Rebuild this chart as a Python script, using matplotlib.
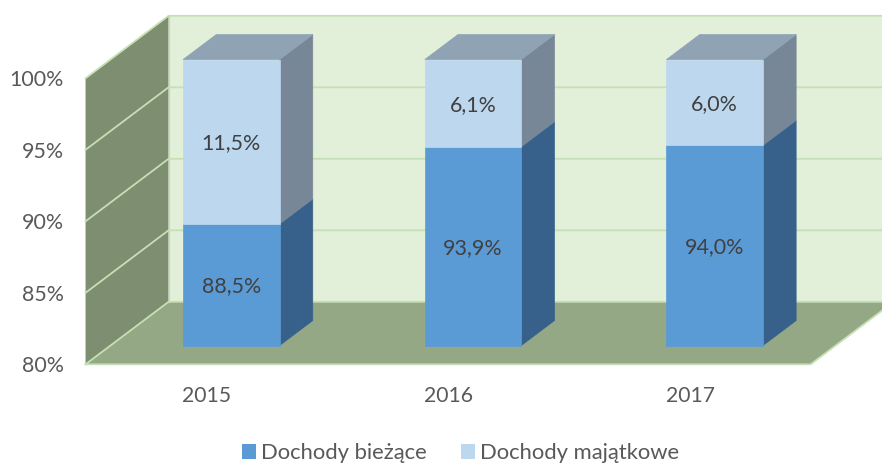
#!/usr/bin/env python3
"""Stacked 3D-look column chart, drawn with an oblique projection"""

import matplotlib
matplotlib.use("Agg")
import matplotlib.pyplot as plt
from matplotlib.patches import Patch, Polygon

years = ["2015", "2016", "2017"]
dochody_biezace = [88.5, 93.9, 94.0]
dochody_majatkowe = [11.5, 6.1, 6.0]
y_ticks = [80, 85, 90, 95, 100]
legend_labels = ["Dochody bieżące", "Dochody majątkowe"]

W, H = 882, 463
PX_CAT = 241.7       # pixels per category
PX_PCT = 14.3        # pixels per percent
X0_PX = 206.4        # first category on the front plane
Y80_PX = 364.3       # 80% on the front plane
DX = 83 / PX_CAT     # full depth of the box in data units
DY = 62.5 / PX_PCT
BAR_W = 96.5 / PX_CAT
BAR_D0, BAR_D1 = 0.3, 0.7

GRID = "#C5E0B4"
TEXT = "#404040"
TICK = "#595959"
FONT = "Lato"
TEXT_DROP = 1.8 / PX_PCT   # Lato sits a little high with va=center


def pt(x, v, d=0.0):
    """Project category x, value v, depth d to axes data coordinates"""
    return (x + d * DX, v + d * DY)


def draw_box(ax, x, v0, v1, front, side, top=None):
    x0, x1 = x - BAR_W / 2, x + BAR_W / 2
    d0, d1 = BAR_D0, BAR_D1
    ax.add_patch(Polygon([pt(x1, v0, d0), pt(x1, v0, d1), pt(x1, v1, d1), pt(x1, v1, d0)],
                         fc=side, ec=side, lw=0.5, zorder=5))
    ax.add_patch(Polygon([pt(x0, v0, d0), pt(x1, v0, d0), pt(x1, v1, d0), pt(x0, v1, d0)],
                         fc=front, ec=front, lw=0.5, zorder=6))
    if top:
        ax.add_patch(Polygon([pt(x0, v1, d0), pt(x1, v1, d0), pt(x1, v1, d1), pt(x0, v1, d1)],
                             fc=top, ec=top, lw=0.5, zorder=5))


def main():
    fig = plt.figure(figsize=(W / 100, H / 100), dpi=100)
    ax = fig.add_axes([0, 0, 1, 1])
    ax.set_xlim(-X0_PX / PX_CAT, (W - X0_PX) / PX_CAT)
    ax.set_ylim(80 - (H - Y80_PX) / PX_PCT, 80 + Y80_PX / PX_PCT)
    ax.axis("off")

    xl = -0.5
    xr = 2.5
    vmin, vmax = y_ticks[0], y_ticks[-1]

    # back wall, floor, left wall
    ax.add_patch(Polygon([pt(xl, vmin, 1), pt(xr, vmin, 1), pt(xr, vmax, 1), pt(xl, vmax, 1)],
                         fc="#E2EFD9", ec="none", zorder=1))
    ax.add_patch(Polygon([pt(xl, vmin), pt(xr, vmin), pt(xr, vmin, 1), pt(xl, vmin, 1)],
                         fc="#95A886", ec="none", zorder=2))
    ax.add_patch(Polygon([pt(xl, vmin), pt(xl, vmin, 1), pt(xl, vmax, 1), pt(xl, vmax)],
                         fc="#7E8E70", ec="none", zorder=2))

    # grid lines on the walls
    for v in y_ticks:
        pts = [pt(xl, v), pt(xl, v, 1), pt(xr, v, 1)]
        ax.plot(*zip(*pts), color=GRID, lw=1.3, zorder=3, solid_joinstyle="miter")
        ax.text(xl - 21.6 / PX_CAT, v - TEXT_DROP, f"{v}%", ha="right", va="center", color=TICK,
                fontsize=15.4, family=FONT, zorder=8)
    ax.plot(*zip(pt(xl, vmin, 1), pt(xl, vmax, 1)), color=GRID, lw=1.0, zorder=3)
    ax.plot(*zip(pt(xl, vmin), pt(xr, vmin), pt(xr, vmin, 1)), color=GRID, lw=1.3, zorder=3)

    # bars
    for i, (a, b) in enumerate(zip(dochody_biezace, dochody_majatkowe)):
        draw_box(ax, i, vmin, a, "#5B9BD5", "#37618A")
        draw_box(ax, i, a, a + b, "#BDD7EE", "#788797", "#8FA3B5")
        for v0, v1 in [(vmin, a), (a, a + b)]:
            val = a if v0 == vmin else b
            tx, ty = pt(i, (v0 + v1) / 2, BAR_D0)
            ax.text(tx, ty - TEXT_DROP, f"{val:.1f}%".replace(".", ","), ha="center", va="center",
                    color=TEXT, fontsize=15.4, family=FONT, zorder=8)
        ax.text(i + 0.5 / PX_CAT, vmin - 31 / PX_PCT - TEXT_DROP / 2, years[i], ha="center", va="center",
                color=TICK, fontsize=15.2, family=FONT, zorder=8)

    handles = [Patch(fc="#5B9BD5"), Patch(fc="#BDD7EE")]
    ax.legend(handles, legend_labels, loc="center", bbox_to_anchor=(460.5 / W, 1 - 453 / H),
              ncol=2, frameon=False, labelcolor=TICK, handlelength=0.64, handleheight=0.64,
              handletextpad=0.25, columnspacing=1.55, borderpad=0, borderaxespad=0,
              prop={"family": FONT, "size": 15.8})

    fig.savefig("out.png", dpi=100)
    plt.close(fig)


if __name__ == "__main__":
    main()
